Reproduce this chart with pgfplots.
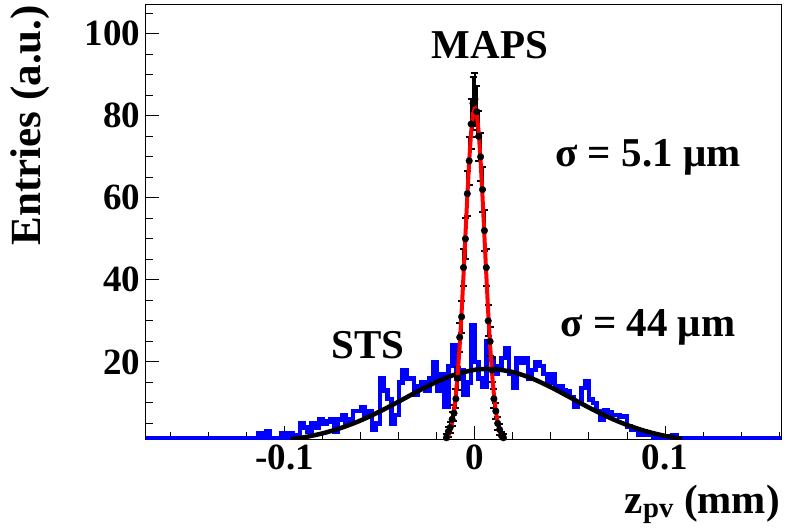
\documentclass[border=0pt]{standalone}
\usepackage{fontspec}
\setmainfont{Liberation Serif}
\usepackage{pgfplots}
\pgfplotsset{compat=1.18}
\definecolor{rootblue}{RGB}{0,0,255}
\definecolor{rootred}{RGB}{255,0,0}

\pgfplotstableread{
x y
-0.176 1.5
-0.116 1.5
-0.114 2.5
-0.112 1.5
-0.110 3
-0.108 1.5
-0.104 1.5
-0.102 2.5
-0.100 1.5
-0.098 2.5
-0.096 1.5
-0.094 2
-0.092 5
-0.090 4
-0.088 3
-0.086 5
-0.084 4
-0.082 6
-0.080 5
-0.078 5.5
-0.076 6
-0.074 3
-0.072 6
-0.070 7
-0.068 5
-0.066 6
-0.064 8
-0.062 8
-0.060 9
-0.058 7
-0.056 8
-0.054 3.5
-0.052 5
-0.050 16
-0.048 13
-0.046 11
-0.044 5
-0.042 7
-0.040 15
-0.038 18
-0.036 16
-0.034 16
-0.032 12
-0.030 14
-0.028 15
-0.026 13
-0.024 16
-0.022 20
-0.020 13
-0.018 17
-0.016 9
-0.014 19
-0.012 24
-0.010 16
-0.008 18
-0.006 12
-0.004 15
-0.002 29
0.000 20
0.002 16
0.004 14
0.006 25
0.008 21
0.010 17
0.012 19
0.014 21
0.016 23.4
0.018 17
0.020 13.6
0.022 21
0.024 19.7
0.026 21
0.028 16
0.030 18
0.032 20
0.034 19
0.036 17
0.038 15
0.040 17
0.042 14
0.044 14
0.046 13
0.048 12.8
0.050 11.5
0.052 9
0.054 10
0.056 13.6
0.058 15.2
0.060 10.8
0.062 10
0.064 8
0.066 5.9
0.068 8.3
0.070 7.6
0.072 7
0.074 7
0.076 6.7
0.078 6.7
0.080 4.3
0.082 3.5
0.084 3.5
0.086 2.2
0.088 3
0.090 2.2
0.092 2.2
0.094 1.5
0.096 2.2
0.098 1.5
0.100 1.8
0.102 1.5
0.104 2
0.106 1.5
0.164 1.5
}\stshist

\pgfplotstableread{
x y
-0.097 1.12
-0.09 1.61
-0.08 2.59
-0.07 3.96
-0.06 5.74
-0.05 7.91
-0.04 10.34
-0.03 12.85
-0.02 15.16
-0.01 16.98
0.00 18.07
0.007 18.3
0.01 18.26
0.02 17.52
0.03 15.96
0.04 13.81
0.05 11.35
0.06 8.86
0.07 6.57
0.08 4.62
0.09 3.09
0.10 1.96
0.109 1.25
}\stsfit

\pgfplotstableread{
x y e
-0.015 1.5 0.9
-0.014 3 1.2
-0.013 4 1.4
-0.012 6 1.7
-0.011 7.5 1.9
-0.010 11 2.3
-0.009 16 2.8
-0.008 26 3.6
-0.007 31 3.9
-0.006 43 4.6
-0.005 50 5.0
-0.004 61 5.5
-0.003 69 5.8
-0.002 78 6.2
-0.001 83 6.4
0.000 84 6.4
0.001 81 6.3
0.002 75 6.1
0.003 70 5.9
0.004 62 5.5
0.005 52 5.0
0.006 43 4.6
0.007 30 3.8
0.008 25 3.5
0.009 18 3.0
0.010 11 2.3
0.011 8 2.0
0.012 5 1.6
0.013 3.5 1.3
0.014 2 1.0
0.015 1.5 0.9
}\maps

\pgfplotstableread{
x y
-0.017 0.32
-0.016 0.60
-0.015 1.08
-0.014 1.90
-0.013 3.18
-0.012 5.15
-0.011 8.0
-0.010 12.0
-0.009 17.3
-0.008 24.0
-0.007 32.0
-0.006 41.1
-0.005 50.7
-0.004 60.3
-0.003 69.0
-0.002 75.9
-0.001 80.4
0.000 82.0
0.001 80.4
0.002 75.9
0.003 69.0
0.004 60.3
0.005 50.7
0.006 41.1
0.007 32.0
0.008 24.0
0.009 17.3
0.010 12.0
0.011 8.0
0.012 5.15
0.013 3.18
0.014 1.90
0.015 1.08
0.016 0.60
0.017 0.32
}\mapsfit

\begin{document}
\begin{tikzpicture}
\begin{axis}[
  at={(0,0)}, anchor=south west,
  scale only axis, width=635pt, height=434pt,
  xmin=-0.173, xmax=0.161, ymin=1.2, ymax=107,
  xtick={-0.1,0,0.1}, xticklabels={-0.1,0,0.1},
  ytick={20,40,60,80,100},
  minor xtick={-0.16,-0.14,-0.12,-0.08,-0.06,-0.04,-0.02,0.02,0.04,0.06,0.08,0.12,0.14,0.16},
  minor ytick={5,10,15,25,30,35,45,50,55,65,70,75,85,90,95,105},
  tick align=inside, xtick pos=left, ytick pos=left,
  major tick length=13pt, minor tick length=7pt,
  every tick/.style={black, line width=1pt},
  axis line style={line width=1pt},
  ticklabel style={font=\fontsize{37}{37}\selectfont\bfseries},
  /pgf/number format/assume math mode=true,
  yticklabel style={xshift=-2pt},
  xticklabel style={yshift=-2pt},
]
\addplot[const plot, rootblue, line width=4.5pt] table[x=x,y=y]{\stshist};
\addplot[black, line width=4.5pt, smooth] table[x=x,y=y]{\stsfit};
\addplot[only marks, mark=*, mark size=3.3pt, black,
  error bars/.cd, y dir=both, y explicit,
  error bar style={line width=2.2pt, black}, error mark options={rotate=90, mark size=3.5pt, line width=2pt}]
  table[x=x,y=y,y error=e]{\maps};
\addplot[rootred, line width=4pt] table[x=x,y=y]{\mapsfit};
\end{axis}
\begin{scope}[every node/.style={font=\fontsize{41}{41}\selectfont\bfseries, inner sep=0pt}]
\node at (344pt,394pt) {MAPS};
\node at (502pt,282pt) {σ = 5.1 μm};
\node at (222pt,94pt) {STS};
\node at (502pt,112pt) {σ = 44 μm};
\node[anchor=base east] at (634pt,-74pt) {z\textsubscript{pv} (mm)};
\node[rotate=90, anchor=east, font=\fontsize{43}{43}\selectfont\bfseries] at (-116pt,434pt) {Entries (a.u.)};
\end{scope}
\pgfresetboundingbox
\path[use as bounding box] (-146pt,-89pt) rectangle (647pt,439pt);
\end{tikzpicture}
\end{document}
